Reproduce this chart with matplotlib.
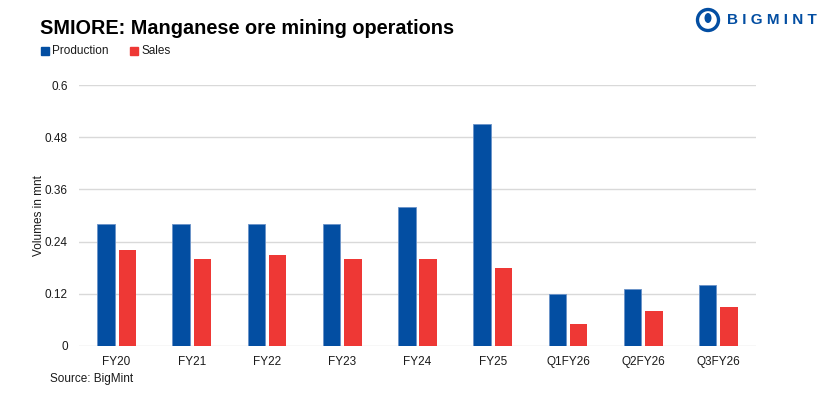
import matplotlib.pyplot as plt
import numpy as np
from matplotlib.patches import Ellipse

categories = ["FY20", "FY21", "FY22", "FY23", "FY24", "FY25", "Q1FY26", "Q2FY26", "Q3FY26"]
production = [0.28, 0.28, 0.28, 0.28, 0.32, 0.51, 0.12, 0.13, 0.14]
sales = [0.22, 0.20, 0.21, 0.20, 0.20, 0.18, 0.05, 0.08, 0.09]
yticks = [0, 0.12, 0.24, 0.36, 0.48, 0.6]
ytick_labels = ["0", "0.12", "0.24", "0.36", "0.48", "0.6"]

BLUE = "#034ea2"
RED = "#ee3835"
TEXT = "#1a1a1a"

plt.rcParams['font.family'] = ['Liberation Sans', 'DejaVu Sans']

fig = plt.figure(figsize=(8.31, 3.96), dpi=100)
ax = fig.add_axes([79 / 831, 50 / 396, 677 / 831, 261 / 396])

x = np.arange(len(categories))
w = 0.232
off = 0.142
ax.bar(x - off, production, width=w, color=BLUE, edgecolor="#6a92c8", linewidth=0.6, zorder=3)
ax.bar(x + off, sales, width=w, color=RED, zorder=3)

ax.set_xlim(-0.5, len(categories) - 0.5)
ax.set_ylim(0, 0.6)
ax.set_yticks(yticks)
ax.set_yticklabels(ytick_labels)
ax.set_xticks(x)
ax.set_xticklabels(categories)
ax.grid(axis='y', color="#d9d9d9", linewidth=1, zorder=0)
for s in ax.spines.values():
    s.set_visible(False)
ax.tick_params(axis='both', length=0, labelsize=8.5, colors=TEXT)
ax.tick_params(axis='y', pad=8)
ax.tick_params(axis='x', pad=7)
ax.set_ylabel("Volumes in mnt", fontsize=8.5, color=TEXT, labelpad=0)

fig.text(40 / 831, 1 - 28 / 396, "SMIORE: Manganese ore mining operations",
         fontsize=14.3, fontweight='bold', color="#000000", va='center', ha='left')

# legend
fig.patches.append(plt.Rectangle((41 / 831, 1 - 55 / 396), 8 / 831, 8 / 396,
                                 transform=fig.transFigure, color=BLUE))
fig.text(52 / 831, 1 - 51 / 396, "Production", fontsize=8.5, color=TEXT, va='center')
fig.patches.append(plt.Rectangle((130 / 831, 1 - 55 / 396), 8 / 831, 8 / 396,
                                 transform=fig.transFigure, color=RED))
fig.text(142 / 831, 1 - 51 / 396, "Sales", fontsize=8.5, color=TEXT, va='center')

fig.text(50 / 831, 1 - 379 / 396, "Source: BigMint", fontsize=8.5, color=TEXT, va='center')

# logo
lx, ly = 708 / 831, 1 - 20 / 396
fig.patches.append(Ellipse((lx, ly), 21 / 831, 21 / 396, transform=fig.transFigure,
                           facecolor='none', edgecolor=BLUE, linewidth=2.4))
fig.patches.append(Ellipse((lx, ly + 2 / 396), 7 / 831, 10 / 396, transform=fig.transFigure,
                           facecolor=BLUE, edgecolor='none'))
fig.text(727 / 831, ly, "B I G M I N T", fontsize=11, fontweight='bold', color=BLUE,
         va='center', ha='left')

fig.savefig("out.png", dpi=100)
